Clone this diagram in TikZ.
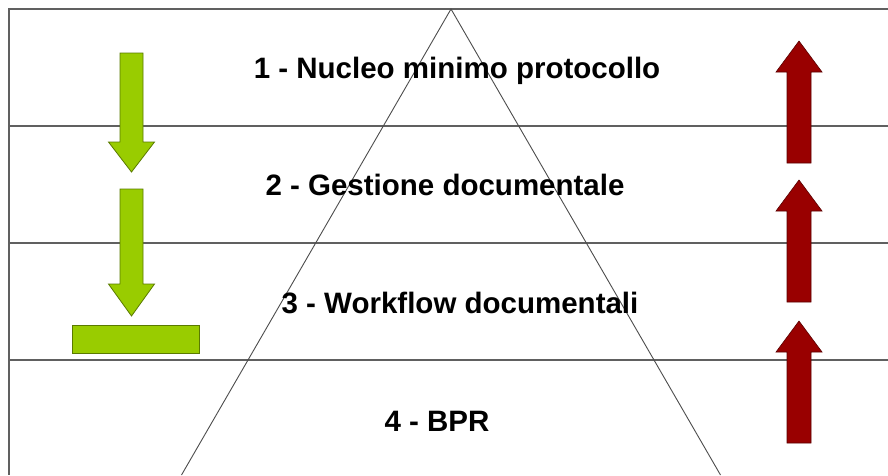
\documentclass[tikz,border=0pt]{standalone}
\usepackage{fontspec}
\setmainfont{Liberation Sans}
\definecolor{leafgreen}{HTML}{99CC00}
\definecolor{leafedge}{HTML}{5A7A00}
\definecolor{darkred}{HTML}{990000}
\definecolor{darkrededge}{HTML}{5A0000}
\definecolor{rulegray}{HTML}{606060}
% block arrow pointing down: x centre, top of shaft, base of head, tip
\newcommand{\downblock}[4]{%
  \filldraw[greenarrow] (#1-11.5,#2) -- (#1+11.5,#2) -- (#1+11.5,#3) -- (#1+23,#3)
    -- (#1,#4) -- (#1-23,#3) -- (#1-11.5,#3) -- cycle;}
% block arrow pointing up: x centre, tip, base of head, bottom of shaft
\newcommand{\upblock}[4]{%
  \filldraw[redarrow] (#1,#2) -- (#1+23,#3) -- (#1+12,#3) -- (#1+12,#4)
    -- (#1-12,#4) -- (#1-12,#3) -- (#1-23,#3) -- cycle;}
\begin{document}
\begin{tikzpicture}[x=1pt,y=-1pt,
  rule/.style={draw=rulegray,line width=1.2pt},
  slope/.style={draw=rulegray!80!black,line width=0.9pt},
  greenarrow/.style={fill=leafgreen,draw=leafedge,line width=0.8pt},
  redarrow/.style={fill=darkred,draw=darkrededge,line width=0.6pt},
  level/.style={font=\bfseries\fontsize{29.5}{34}\selectfont,anchor=base,inner sep=0pt}]
\useasboundingbox[fill=white] (0,0) rectangle (888,475);
% frame and level separators
\draw[rule] (888,9) -- (9,9) -- (9,475);
\foreach \yy in {126,243,360} \draw[rule] (9,\yy) -- (888,\yy);
% pyramid sides
\coordinate (apex) at (451,9);
\coordinate (baseL) at (181.5,475);
\coordinate (baseR) at (720.5,475);
\draw[slope] (baseL) -- (apex) -- (baseR);
% level labels
\node[level] (l1) at (457,78) {1 - Nucleo minimo protocollo};
\node[level] (l2) at (445,195) {2 - Gestione documentale};
\node[level] (l3) at (460,313) {3 - Workflow documentali};
\node[level] (l4) at (437,431) {4 - BPR};
% descending arrows on the left
\downblock{131.5}{53}{142}{172}
\downblock{131.5}{189}{284}{316}
\filldraw[greenarrow] (72,325) rectangle (199,353);
% ascending arrows on the right
\upblock{799}{41}{72}{163}
\upblock{799}{180}{211}{302}
\upblock{799}{321}{352}{443}
\end{tikzpicture}
\end{document}
